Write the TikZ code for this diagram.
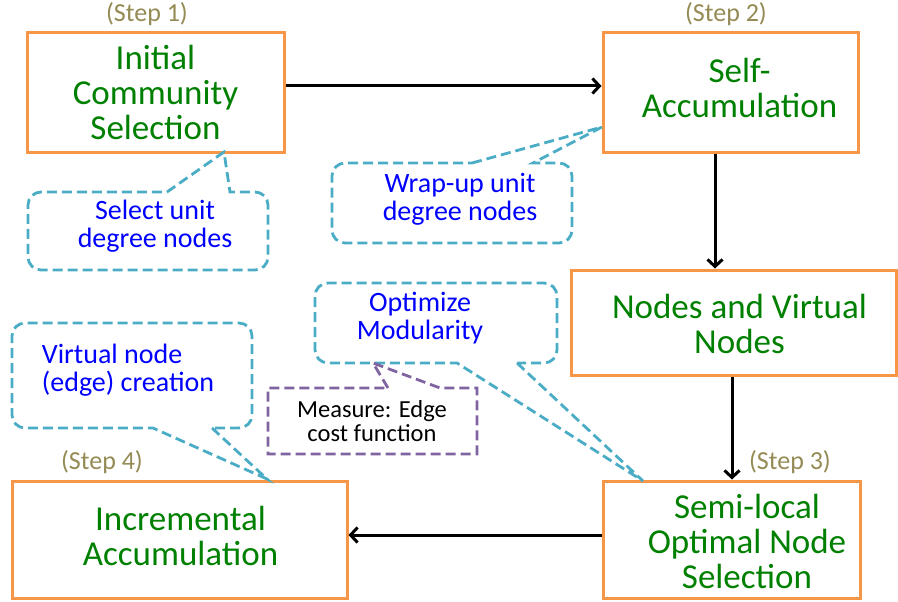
\documentclass[tikz,border=0pt]{standalone}
\usepackage{fontspec}
\setmainfont{Carlito}
\usetikzlibrary{arrows.meta}
\definecolor{boxorange}{HTML}{F79646}
\definecolor{callcyan}{HTML}{4BACC6}
\definecolor{callpurple}{HTML}{8064A2}
\definecolor{stepolive}{HTML}{948A54}
\definecolor{textgreen}{RGB}{0,128,0}
\definecolor{textblue}{RGB}{0,0,255}
\tikzset{
  stepbox/.style={draw=boxorange, line width=3pt, inner sep=0pt},
  boxtext/.style={text=textgreen, align=center, inner sep=0pt, font=\fontsize{35}{35}\selectfont},
  steplabel/.style={text=stepolive, inner sep=0pt, font=\fontsize{26}{26}\selectfont},
  calltext/.style={text=textblue, align=center, inner sep=0pt, font=\fontsize{28}{28}\selectfont},
  measuretext/.style={text=black, align=center, inner sep=0pt, font=\fontsize{24.5}{24}\selectfont},
  callout/.style={draw=callcyan, line width=2.8pt, dash pattern=on 10pt off 5pt},
  pcallout/.style={draw=callpurple, line width=2.8pt, dash pattern=on 10pt off 5pt},
  arr/.style={draw=black, line width=3pt, -{Straight Barb[length=7pt,width=15pt]}},
}
\begin{document}
\begin{tikzpicture}[x=1pt,y=-1pt]
\useasboundingbox (0,0) rectangle (898,602);
% boxes
\node[stepbox, minimum width=257pt, minimum height=119pt] (b1) at (155.5,92.5) {};
\node[stepbox, minimum width=255pt, minimum height=119pt] (b2) at (730.5,92.5) {};
\node[stepbox, minimum width=325pt, minimum height=105pt] (b3) at (733.5,322.5) {};
\node[stepbox, minimum width=257pt, minimum height=117pt] (b4) at (731.5,539.5) {};
\node[stepbox, minimum width=335pt, minimum height=117pt] (b5) at (179.5,539.5) {};
% box texts
\node[boxtext] (t1) at (155.5,92.5) {Initial\\Community\\Selection};
\node[boxtext] (t2) at (739.5,88) {Self-\\Accumulation};
\node[boxtext] (t3) at (739.5,324) {Nodes and Virtual\\Nodes};
\node[boxtext] (t4) at (747,541) {Semi-local\\Optimal Node\\Selection};
\node[boxtext] (t5) at (180.5,536) {Incremental\\Accumulation};
% step labels
\node[steplabel] (s1) at (147,14) {(Step 1)};
\node[steplabel] (s2) at (726,14) {(Step 2)};
\node[steplabel] (s3) at (790,462) {(Step 3)};
\node[steplabel] (s4) at (102,462) {(Step 4)};
% arrows
\draw[arr] ([yshift=6.5pt]b1.east) -- ([yshift=6.5pt]b2.west);
\draw[arr] ([xshift=-15.5pt]b2.south) -- ([xshift=-15.5pt]b2.south |- b3.north);
\draw[arr] ([xshift=-1.5pt]b3.south) -- ([xshift=-1.5pt]b3.south |- b4.north);
\draw[arr] ([yshift=4.5pt]b4.west) -- ([yshift=4.5pt]b4.west -| b5.east);
% callout pointer tips
\coordinate (p1) at (224,152);
\coordinate (p2) at (602,127);
\coordinate (p3) at (267,479);
\coordinate (p4) at (643,481);
\coordinate (p5) at (373,363);
% callout 1
\draw[callout] (167,192) -- (p1) -- (230,192) [rounded corners=13pt] -- (268,192) -- (268,270) -- (28,270) -- (28,192) -- (167,192);
\node[calltext] (c1) at (155,226) {Select unit\\degree nodes};
% callout 2
\draw[callout] (472,163) -- (p2) -- (533,163) [rounded corners=13pt] -- (572,163) -- (572,243) -- (332,243) -- (332,163) -- (472,163);
\node[calltext] (c2) at (460,199) {Wrap-up unit\\degree nodes};
% callout 3
\draw[callout] (212,428) -- (p3) -- (153,428) [rounded corners=13pt] -- (12,428) -- (12,323) -- (252,323) -- (252,428) -- (212,428);
\node[calltext, align=left] (c3) at (128,370) {Virtual node\\(edge) creation};
% callout 4
\draw[callout] (517,363) -- (p4) -- (457,363) [rounded corners=13pt] -- (315,363) -- (315,283) -- (557,283) -- (557,363) -- (517,363);
\node[calltext] (c4) at (420,318) {Optimize\\Modularity};
% callout 5 (purple)
\draw[pcallout] (388,388) -- (p5) -- (440,388) -- (477,388) -- (477,454) -- (268,454) -- (268,388) -- cycle;
\node[measuretext] (c5) at (372,421) {Measure: Edge\\cost function};
\end{tikzpicture}
\end{document}
